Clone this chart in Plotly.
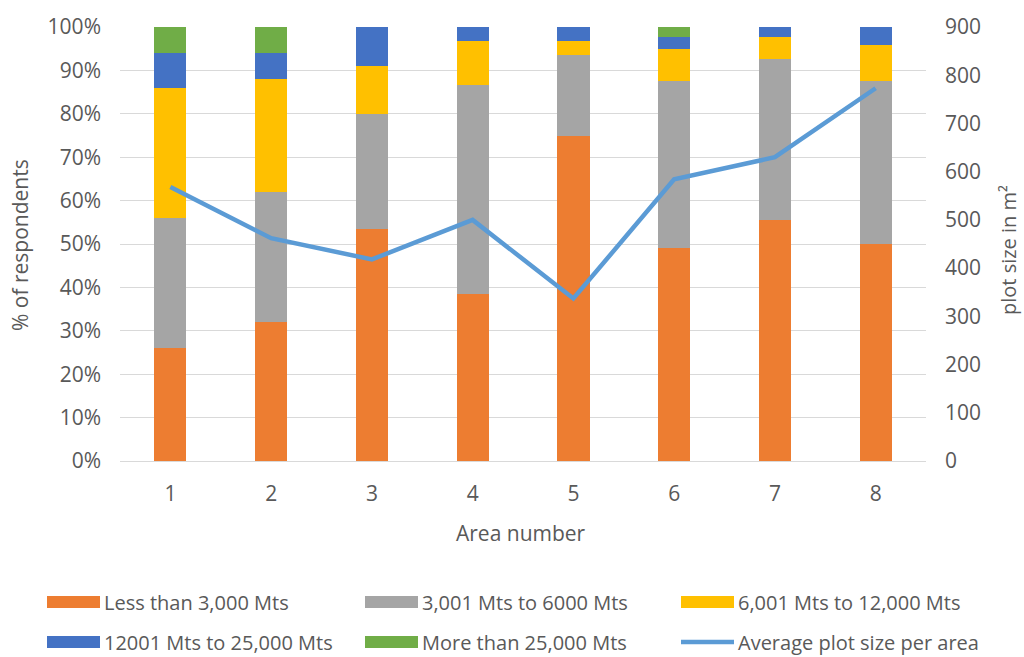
import plotly.graph_objects as go

# Survey areas and share of respondents per plot-size class (%)
areas = [1, 2, 3, 4, 5, 6, 7, 8]
less_3000 = [26, 32, 53.5, 38.5, 75, 49, 55.5, 50]
from_3001_6000 = [30, 30, 26.5, 48.1, 18.5, 38.6, 37.1, 37.6]
from_6001_12000 = [30, 26, 11, 10.2, 3.3, 7.3, 5.2, 8.3]
from_12001_25000 = [8, 6, 9, 3.2, 3.2, 2.9, 2.2, 4.1]
more_25000 = [6, 6, 0, 0, 0, 2.2, 0, 0]

# Average plot size per area (m²)
avg_plot_size = [568, 462, 418, 500, 337, 584, 630, 773]

pct_ticks = list(range(0, 101, 10))
size_ticks = list(range(0, 901, 100))

series = [
    ("Less than 3,000 Mts", less_3000, "#ED7D31"),
    ("3,001 Mts to 6000 Mts", from_3001_6000, "#A5A5A5"),
    ("6,001 Mts to 12,000 Mts", from_6001_12000, "#FFC000"),
    ("12001 Mts to 25,000 Mts", from_12001_25000, "#4472C4"),
    ("More than 25,000 Mts", more_25000, "#70AD47"),
]
line_name = "Average plot size per area"
line_color = "#5B9BD5"

FONT = "Open Sans, Liberation Sans, sans-serif"
TXT = "#595959"

W, H = 1024, 657
ML, MR, MT, MB = 120, 98, 27, 196
PW, PH = W - ML - MR, H - MT - MB


def px(x):
    """Pixel column -> paper x (relative to plot area)."""
    return (x - ML) / PW


def py(y):
    """Pixel row -> paper y (relative to plot area)."""
    return (H - MB - y) / PH


fig = go.Figure()
for name, vals, color in series:
    fig.add_trace(go.Bar(
        x=areas, y=vals, name=name, width=0.32,
        marker=dict(color=color, line=dict(width=0)),
        showlegend=False,
    ))

fig.add_trace(go.Scatter(
    x=areas, y=avg_plot_size, name=line_name, mode="lines",
    line=dict(color=line_color, width=4.5), yaxis="y2", showlegend=False,
))

# Legend drawn as wide swatches with labels in a 3-column grid
legend_items = [(n, c, "bar") for n, _, c in series] + [(line_name, line_color, "line")]
col_x = [47, 365, 681]
row_y = [602, 642]
shapes = []
annotations = []
for i, (name, color, kind) in enumerate(legend_items):
    cx = col_x[i % 3]
    cy = row_y[i // 3]
    if kind == "bar":
        shapes.append(dict(type="rect", xref="paper", yref="paper",
                           x0=px(cx), x1=px(cx + 53), y0=py(cy + 6), y1=py(cy - 6),
                           fillcolor=color, line=dict(width=0)))
    else:
        shapes.append(dict(type="line", xref="paper", yref="paper",
                           x0=px(cx), x1=px(cx + 53), y0=py(cy), y1=py(cy),
                           line=dict(color=color, width=4.5)))
    annotations.append(dict(text=name, xref="paper", yref="paper",
                            x=px(cx + 55), y=py(cy), xanchor="left", yanchor="middle",
                            showarrow=False, font=dict(family=FONT, size=20, color=TXT)))

# Axis titles
annotations.append(dict(text="% of respondents", xref="paper", yref="paper",
                        x=px(20), y=py(245), textangle=-90, showarrow=False,
                        xanchor="center", yanchor="middle",
                        font=dict(family=FONT, size=21, color=TXT)))
annotations.append(dict(text="plot size in m²", xref="paper", yref="paper",
                        x=px(1008), y=py(250), textangle=-90, showarrow=False,
                        xanchor="center", yanchor="middle",
                        font=dict(family=FONT, size=20, color=TXT)))
annotations.append(dict(text="Area number", xref="paper", yref="paper",
                        x=px(521), y=py(533), showarrow=False,
                        xanchor="center", yanchor="middle",
                        font=dict(family=FONT, size=21, color=TXT)))

fig.update_layout(
    width=W, height=H,
    margin=dict(l=ML, r=MR, t=MT, b=MB),
    barmode="stack",
    plot_bgcolor="white", paper_bgcolor="white",
    font=dict(family=FONT, size=21, color=TXT),
    xaxis=dict(
        range=[0.5, 8.5], tickmode="array", tickvals=areas,
        ticktext=[str(a) for a in areas],
        showgrid=False, showline=True, linecolor="#D9D9D9", linewidth=1,
        ticks="", ticklabelstandoff=14, zeroline=False,
    ),
    yaxis=dict(
        range=[0, 100], tickmode="array", tickvals=pct_ticks,
        ticktext=[f"{t}%" for t in pct_ticks],
        showgrid=True, gridcolor="#D9D9D9", gridwidth=1,
        zeroline=False, showline=False, ticks="", ticklabelstandoff=18,
    ),
    yaxis2=dict(
        range=[0, 900], tickmode="array", tickvals=size_ticks,
        overlaying="y", side="right", showgrid=False, zeroline=False,
        showline=False, ticks="", ticklabelstandoff=18,
    ),
    shapes=shapes,
    annotations=annotations,
    showlegend=False,
)

fig.write_html("out.html")
